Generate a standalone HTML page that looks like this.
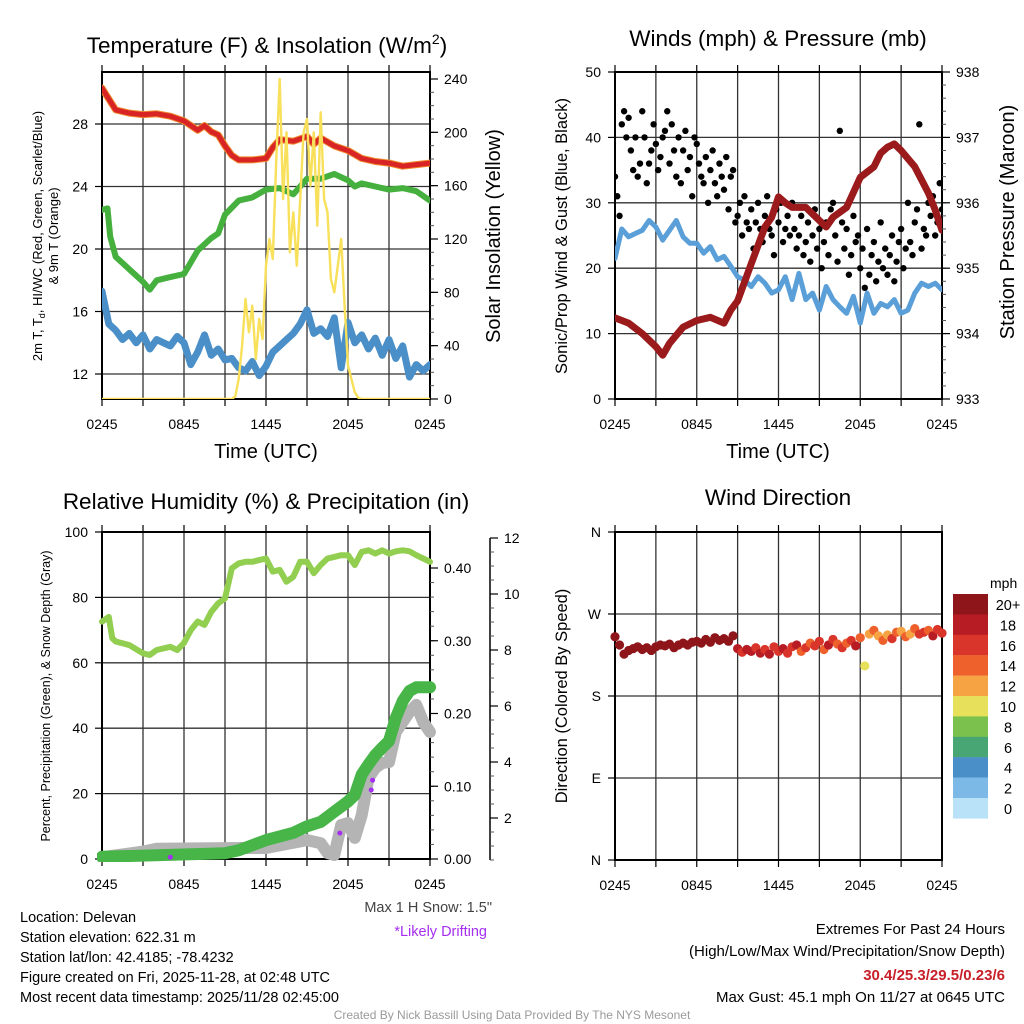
<!DOCTYPE html>
<html><head><meta charset="utf-8"><title>Delevan Meteogram</title>
<style>
html,body{margin:0;padding:0;background:#fff;}
svg{display:block;font-family:"Liberation Sans",Arial,sans-serif;}
</style></head>
<body>
<svg id="chart" width="1024" height="1024" viewBox="0 0 1024 1024" xmlns="http://www.w3.org/2000/svg">
<defs>
<clipPath id="c1"><rect x="102" y="72" width="328" height="327"/></clipPath>
<clipPath id="c2"><rect x="615" y="72" width="327" height="327"/></clipPath>
<clipPath id="c3"><rect x="97" y="527" width="340" height="335"/></clipPath>
<clipPath id="c4"><rect x="610" y="527" width="337" height="337"/></clipPath>
</defs>
<text x="267" y="53" font-size="22.5" text-anchor="middle">Temperature (F) &amp; Insolation (W/m<tspan dy="-9" font-size="14">2</tspan><tspan dy="9">)</tspan></text>
<text x="778" y="46" font-size="22.5" text-anchor="middle">Winds (mph) &amp; Pressure (mb)</text>
<text x="266" y="509" font-size="22.5" text-anchor="middle">Relative Humidity (%) &amp; Precipitation (in)</text>
<text x="778" y="505" font-size="22.5" text-anchor="middle">Wind Direction</text>

<text x="266" y="458" font-size="20" text-anchor="middle">Time (UTC)</text>
<text x="778" y="458" font-size="20" text-anchor="middle">Time (UTC)</text>

<text transform="translate(42,236) rotate(-90)" font-size="13" text-anchor="middle">2m T, T<tspan dy="3" font-size="9">d</tspan><tspan dy="-3">, HI/WC (Red, Green, Scarlet/Blue)</tspan></text>
<text transform="translate(58,236) rotate(-90)" font-size="13" text-anchor="middle">&amp; 9m T (Orange)</text>
<text transform="translate(500,236) rotate(-90)" font-size="20" text-anchor="middle">Solar Insolation (Yellow)</text>
<text transform="translate(567,236) rotate(-90)" font-size="16.5" text-anchor="middle">Sonic/Prop Wind &amp; Gust (Blue, Black)</text>
<text transform="translate(1014,222) rotate(-90)" font-size="20" text-anchor="middle">Station Pressure (Maroon)</text>
<text transform="translate(50,696) rotate(-90)" font-size="12.5" text-anchor="middle">Percent, Precipitation (Green), &amp; Snow Depth (Gray)</text>
<text transform="translate(567,696) rotate(-90)" font-size="16.5" text-anchor="middle">Direction (Colored By Speed)</text>

<text x="492" y="912" font-size="14.5" fill="#444" text-anchor="end">Max 1 H Snow: 1.5"</text>
<text x="487" y="936" font-size="14.5" fill="#a52ef0" text-anchor="end">*Likely Drifting</text>

<g font-size="14.5">
<text x="20" y="922">Location: Delevan</text>
<text x="20" y="942">Station elevation: 622.31 m</text>
<text x="20" y="962">Station lat/lon: 42.4185; -78.4232</text>
<text x="20" y="982">Figure created on Fri, 2025-11-28, at 02:48 UTC</text>
<text x="20" y="1002">Most recent data timestamp: 2025/11/28 02:45:00</text>
</g>
<g font-size="15" text-anchor="end">
<text x="1005" y="934">Extremes For Past 24 Hours</text>
<text x="1005" y="956">(High/Low/Max Wind/Precipitation/Snow Depth)</text>
<text x="1005" y="980" fill="#c8202a" font-weight="bold">30.4/25.3/29.5/0.23/6</text>
<text x="1005" y="1002">Max Gust: 45.1 mph On 11/27 at 0645 UTC</text>
</g>
<text x="512" y="1019" font-size="12" fill="#9a9a9a" text-anchor="middle">Created By Nick Bassill Using Data Provided By The NYS Mesonet</text>
<text x="990" y="588" font-size="14" text-anchor="start">mph</text>
</svg>
<script>
// ---------- DATA ----------
const xTickLabels = ["0245","0845","1445","2045","0245"];
const xTickHours = [0,6,12,18,24];
// Panel 1
const redTimes = [0,0.5,1,2,3,4,5,6,7,7.5,8,8.5,9,9.5,10,11,12,12.5,13,14,15,15.5,16,17,18,19,20,21,22,23,24];
const redTemp = [30.3,29.6,28.9,28.7,28.6,28.65,28.5,28.2,27.6,27.9,27.5,27.3,26.6,26.0,25.7,25.7,25.8,26.5,27.0,26.9,27.2,26.7,27.1,26.6,26.3,25.8,25.6,25.5,25.3,25.4,25.5];
const greenTimes = [0,0.4,0.6,1,2,3,3.5,4,5,6,7,8,8.5,9,10,11,12,13,14,15,16,17,18,18.5,19,20,21,22,23,24];
const greenDew = [22.5,22.6,20.8,19.5,18.7,17.9,17.4,18.0,18.2,18.4,19.9,20.7,21.0,22.2,23.1,23.3,23.8,23.9,23.5,24.5,24.5,24.8,24.4,24.0,24.2,24.0,23.8,23.9,23.7,23.1];
const blueWindChill = [17.3,15.2,14.8,14.2,14.6,14.0,14.5,13.6,14.2,14.0,13.8,14.4,14.0,12.6,13.4,14.5,13.2,13.6,12.9,13.0,12.4,12.2,12.8,11.9,12.5,13.4,13.8,14.2,14.6,15.2,16.1,14.6,14.9,14.4,15.6,12.4,15.3,14.0,14.5,13.6,14.3,13.2,14.2,13.0,13.8,11.8,12.6,12.2,12.6];
const solarTimes = [0,9.5,9.75,10,10.25,10.5,10.75,11,11.25,11.5,11.75,12,12.25,12.5,12.75,13,13.25,13.5,13.75,14,14.25,14.5,14.75,15,15.25,15.5,15.75,16,16.25,16.5,16.75,17,17.25,17.5,17.75,18,18.25,18.5,18.75,19,24];
const solarVals = [0,0,2,15,40,75,50,70,30,60,45,100,120,105,180,240,150,200,110,140,100,150,200,210,160,200,130,215,150,140,90,80,100,120,70,25,15,5,1,0,0];
const tempTicks = [12,16,20,24,28];
const solarTicks = [0,40,80,120,160,200,240];
// Panel 2
const windSpeed = [21.5,26.0,24.8,25.3,25.8,27.3,26.3,24.3,25.8,27.3,24.8,23.8,23.8,22.3,23.3,21.3,21.8,20.3,18.7,18.2,17.2,18.7,17.7,16.2,16.7,18.7,15.2,19.2,15.2,16.2,13.6,17.2,15.2,14.1,13.1,15.7,11.6,16.2,13.1,14.6,14.1,15.2,13.1,13.6,16.2,17.7,17.2,17.7,16.7];
const windGust = [34,31,28,42,44,40, 43,38,35,40,34,36, 44,40,33,36,38,42, 39,35,37,40,41,44, 36,42,38,34,40,33, 38,41,35,37,31,40, 39,36,34,33,37,30, 35,38,33,31,36,34, 32,37,29,34,35,27, 28,30,25,31,27,26, 29,23,27,30,26,24, 28,31,26,25,22,29, 27,30,24,26,28,25, 30,26,23,25,28,22, 24,27,21,25,29,23, 26,20,24,27,22,29, 30,25,21,41,27,23, 26,19,22,28,24,25, 20,23,17,26,19,22, 24,18,21,27,20,23, 19,22,25,18,21,24, 26,20,23,30,24,22, 27,29,42,23,26,25, 30,28,31,25,27,33, 29];
const pressTimes = [0,1,2,3,3.5,4,5,6,7,8,8.5,9,10,11,11.5,12,12.5,13,14,15,15.5,16,17,18,19,19.5,20,20.5,21,22,23,23.5,24];
const pressVals = [934.24,934.16,934.0,933.8,933.67,933.85,934.1,934.2,934.25,934.16,934.36,934.5,935.07,935.63,935.78,936.09,936.0,935.93,935.93,935.73,935.63,935.78,935.93,936.39,936.55,936.76,936.85,936.9,936.8,936.55,936.15,935.89,935.58];
const windTicks = [0,10,20,30,40,50];
const pressTicks = [933,934,935,936,937,938];
// Panel 3
const rhTimes = [0,0.5,0.75,1,2,3,3.5,4,5,5.5,6,6.5,7,7.5,8,8.5,9,9.5,10,10.5,11,11.5,12,12.5,13,13.5,14,14.5,15,15.5,16,16.5,17,17.5,18,18.5,19,19.5,20,20.5,21,21.5,22,22.5,23,23.5,24];
const rhVals = [72.6,74,67.5,66.5,65.4,62.9,62.4,63.9,64.9,63.9,66.1,70,72.6,71.6,75.6,78.2,79.7,88.9,90.4,90.9,90.9,91.4,91.9,87.9,88.4,84.8,86.3,90.9,90.9,87.4,89.9,91.9,92.4,92.9,92.9,89.9,93.9,94.4,93.4,94.4,93.4,94.1,94.4,94.1,92.9,91.9,90.9];
const precipTimes = [0,9,10,11,12,13,14,15,16,17,18,18.5,19,19.5,20,20.5,21,21.5,22,22.5,23,24];
const precipVals = [0.003,0.008,0.012,0.019,0.026,0.031,0.036,0.045,0.051,0.065,0.079,0.088,0.116,0.13,0.143,0.153,0.162,0.194,0.217,0.231,0.236,0.236];
const snowTimes = [0,3,4,10,12,15,16,16.5,17,17.5,18,18.5,19,19.5,20,20.5,21,21.5,22,22.5,23,23.5,24];
const snowVals = [0.6,0.8,0.9,0.93,0.93,1.21,1.1,0.75,0.68,1.75,1.82,1.29,2.1,3.43,3.79,3.96,4.0,5.07,5.43,5.79,6.04,5.43,5.07];
const driftTimes = [5,17.4,19.7,19.8];
const driftVals = [0.6,1.46,3.0,3.35];
const rhTicks = [0,20,40,60,80,100];
const precipTicks = [0,0.1,0.2,0.3,0.4];
const precipTickLabels = ["0.00","0.10","0.20","0.30","0.40"];
const snowTicks = [2,4,6,8,10,12];
// Panel 4
const dirVals = [245,236,226, 230,232,234, 231,233,230, 234,236,235, 237,233,236, 238,236,239, 240,238,242, 239,244,241, 243,240,246, 232,228,231, 229,233,227, 231,226,234, 229,232,227, 234,236,229, 233,238,235, 240,231,236, 242,237,233, 238,241,235, 244,213,248, 252,246,241, 247,243,250, 251,245,248, 254,248,250, 252,246,253, 249];
const dirSpeed = [24,22,21,23,22,25,22,21,24,23,22,26,24,21,23,22,24,21,22,23,20,22,21,23,21,22,20, 18,17,19,18,16,19,17,18,16,17,19,17, 16,18,15,17,14,16,17,15,18,16,14,17,15,16,18, 14,10,13,15,12,14,13,16,14,12,15,13,14,16,17,15,18,16,17];
const dirTicks = [0,90,180,270,360];
const dirTickLabels = ["N","E","S","W","N"];
const cbarLabels = ["20+","18","16","14","12","10","8","6","4","2","0"];
const cbarColors = ["#8e1519","#b71c24","#d9352a","#ef612c","#f6a443","#e6e05a","#7bc14e","#47a673","#4a8fc7","#7db9e6","#b9e2f8"];

// ---------- HELPERS ----------
const NS = "http://www.w3.org/2000/svg";
const svg = document.getElementById("chart");
function mk(tag, attrs, parent) {
  const e = document.createElementNS(NS, tag);
  for (const k in attrs) e.setAttribute(k, attrs[k]);
  (parent || svg).appendChild(e);
  return e;
}
function lin(d0, p0, d1, p1) { return v => p0 + (v - d0) * (p1 - p0) / (d1 - d0); }
function speedColor(s) {
  const idx = s >= 20 ? 0 : Math.min(10, 10 - Math.floor(s / 2));
  return cbarColors[idx];
}

const panels = [
  {x0:102,x1:430,y0:72,y1:399,clip:"c1"},
  {x0:615,x1:942,y0:72,y1:399,clip:"c2"},
  {x0:102,x1:430,y0:532,y1:859,clip:"c3"},
  {x0:615,x1:942,y0:532,y1:860,clip:"c4"}
];
const xs = panels.map(p => lin(0, p.x0, 24, p.x1));

function frame(i, leftTicks, leftScale, leftLabels, gridVals) {
  const p = panels[i];
  const g = mk("g", {});
  
  
  for (let h = 3; h < 24; h += 3) {
    const l = mk("line", {x1: xs[i](h), x2: xs[i](h), y1: p.y0, y2: p.y1, stroke: "#333", "stroke-width": 1.3}, g);
    
    
  }
  for (let h = 0; h <= 24; h += 3) {
    const tb = mk("line", {x1: xs[i](h), x2: xs[i](h), y1: p.y1, y2: p.y1 + 7, stroke: "#000", "stroke-width": 1.2}, g);
    
    
    const tt = mk("line", {x1: xs[i](h), x2: xs[i](h), y1: p.y0, y2: p.y0 - 7, stroke: "#000", "stroke-width": 1.2}, g);
    
    
  }
  xTickHours.forEach((h, k) => {
    const t = mk("text", {x: xs[i](h), y: p.y1 + 30, "font-size": 14, "text-anchor": "middle"}, g);
    
    
    t.textContent = xTickLabels[k];
  });
  gridVals.forEach(v => {
    const y = leftScale(v);
    const l = mk("line", {x1: p.x0, x2: p.x1, y1: y, y2: y, stroke: "#333", "stroke-width": 1.3}, g);
    
    
  });
  leftTicks.forEach((v, k) => {
    const y = leftScale(v);
    const tk = mk("line", {x1: p.x0 - 7, x2: p.x0, y1: y, y2: y, stroke: "#000", "stroke-width": 1.2}, g);
    
    
    const t = mk("text", {x: p.x0 - 14, y: y + 5, "font-size": 14, "text-anchor": "end"}, g);
    
    
    t.textContent = leftLabels[k];
  });
  const r = mk("rect", {x: p.x0, y: p.y0, width: p.x1 - p.x0, height: p.y1 - p.y0, fill: "none", stroke: "#000", "stroke-width": 2}, g);
  
  
  return g;
}
function rightAxis(i, x, ticks, scale, labels, minorStep, yTop, yBot) {
  const g = mk("g", {});
  
  
  if (yTop !== undefined) {
    const ax = mk("line", {x1: x, x2: x, y1: yTop, y2: yBot, stroke: "#000", "stroke-width": 1.5}, g);
    
    
  }
  const lo = ticks[0], hi = ticks[ticks.length - 1];
  for (let v = lo - minorStep * 3; v <= hi + minorStep * 0.5; v += minorStep) {
    const y = scale(v);
    if (y < (yTop || panels[i].y0) - 0.5 || y > (yBot || panels[i].y1) + 0.5) continue;
    const m = mk("line", {x1: x, x2: x + 4, y1: y, y2: y, stroke: "#555", "stroke-width": 1}, g);
    
    
  }
  ticks.forEach((v, k) => {
    const y = scale(v);
    const tk = mk("line", {x1: x, x2: x + 8, y1: y, y2: y, stroke: "#000", "stroke-width": 1.2}, g);
    
    
    const t = mk("text", {x: x + 14, y: y + 5, "font-size": 14}, g);
    
    
    t.textContent = labels[k];
  });
}
function line(i, times, vals, yScale, color, width, name) {
  const pts = times.map((t, k) => xs[i](t).toFixed(1) + "," + yScale(vals[k]).toFixed(1)).join(" ");
  const pl = mk("polyline", {points: pts, fill: "none", stroke: color, "stroke-width": width, "stroke-linejoin": "round", "stroke-linecap": "round", "clip-path": "url(#" + panels[i].clip + ")"});
  
  
  return pl;
}
const halfHours = windSpeed.map((_, k) => k / 2);

// ---------- PANEL 1 ----------
const yTemp = lin(12, 374, 28, 124);
const ySolar = lin(0, 399, 240, 79);
frame(0, tempTicks, yTemp, tempTicks.map(String), tempTicks);
rightAxis(0, 430, solarTicks, ySolar, solarTicks.map(String), 10);
line(0, halfHours, blueWindChill, yTemp, "#4a8fc8", 7, "wind-chill-line");
line(0, greenTimes, greenDew, yTemp, "#45b03e", 6, "dewpoint-line");
line(0, redTimes, redTemp, yTemp, "#f08a30", 7, "9m-temp-line");
line(0, redTimes, redTemp, yTemp, "#d82424", 5, "2m-temp-line");
line(0, solarTimes, solarVals, ySolar, "#f8e05a", 2.4, "solar-line");

// ---------- PANEL 2 ----------
const yWind = lin(0, 399, 50, 72);
const yPress = lin(933, 399, 938, 72);
frame(1, windTicks, yWind, windTicks.map(String), windTicks);
rightAxis(1, 942, pressTicks, yPress, pressTicks.map(String), 0.2);
line(1, halfHours, windSpeed, yWind, "#5a9fd8", 5, "wind-speed-line");
windGust.forEach((v, k) => {
  const c = mk("circle", {cx: xs[1](k / 6), cy: yWind(v), r: 3.2, fill: "#000", "clip-path": "url(#c2)"});
  
  
});
line(1, pressTimes, pressVals, yPress, "#9b1a1c", 7, "pressure-line");

// ---------- PANEL 3 ----------
const yRH = lin(0, 859, 100, 532);
const yPrecip = lin(0, 859, 0.4, 568);
const ySnow = lin(2, 818, 12, 538);
frame(2, rhTicks, yRH, rhTicks.map(String), [20,40,60,80]);
rightAxis(2, 430, precipTicks, yPrecip, precipTickLabels, 0.02);
rightAxis(2, 490, snowTicks, ySnow, snowTicks.map(String), 0.5, 538, 860);
line(2, snowTimes, snowVals, ySnow, "#b4b4b4", 12, "snow-depth-line");
line(2, precipTimes, precipVals, yPrecip, "#47b548", 12, "precipitation-line");
line(2, rhTimes, rhVals, yRH, "#92ce50", 6, "relative-humidity-line");
driftTimes.forEach((t, k) => {
  const c = mk("circle", {cx: xs[2](t), cy: ySnow(driftVals[k]), r: 2.5, fill: "#a52ef0"});
  
  
});

// ---------- PANEL 4 ----------
const yDir = lin(0, 860, 360, 532);
frame(3, dirTicks, yDir, dirTickLabels, [90,180,270]);
dirVals.forEach((v, k) => {
  const c = mk("circle", {cx: xs[3](k / 3), cy: yDir(v), r: 4.6, fill: speedColor(dirSpeed[k]), "clip-path": "url(#c4)"});
  
  
});
const cb = mk("g", {});


cbarLabels.forEach((lab, k) => {
  const y = 594 + k * 20.4;
  const r = mk("rect", {x: 953, y: y, width: 35, height: 20.6, fill: cbarColors[k]}, cb);
  
  
  const t = mk("text", {x: 1008, y: y + 16, "font-size": 14.5, "text-anchor": "middle"}, cb);
  
  
  t.textContent = lab;
});
</script>
</body></html>
